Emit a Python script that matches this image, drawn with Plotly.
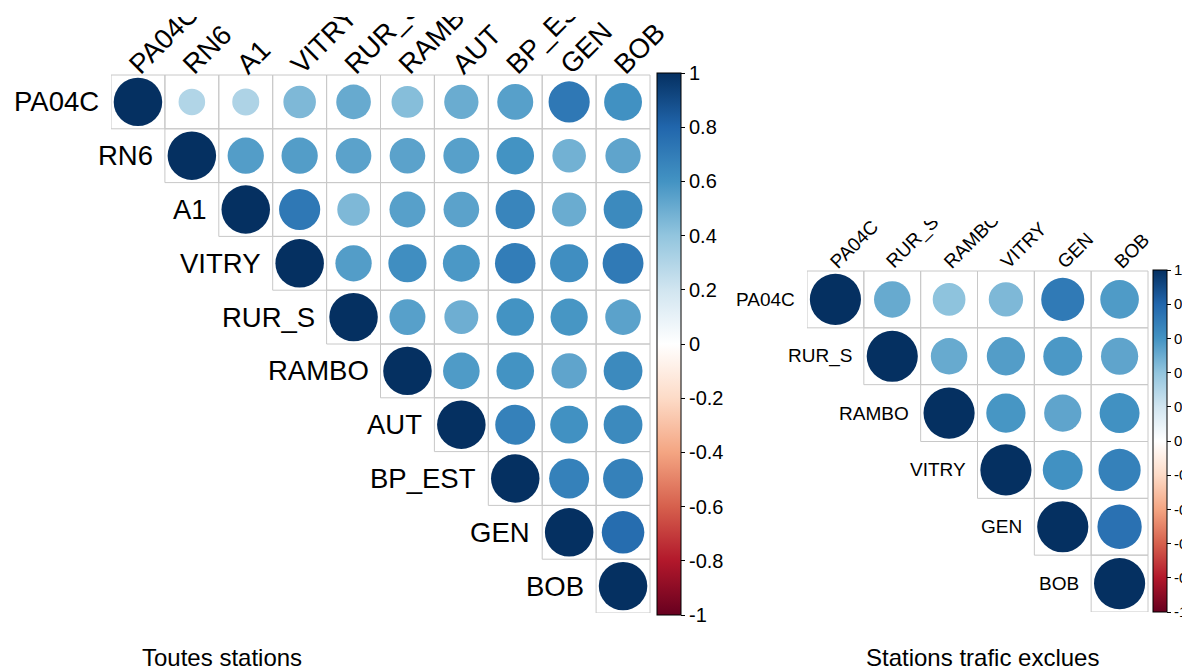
import plotly.graph_objects as go
from plotly.colors import sample_colorscale

# Station names for each panel
stations_all = ["PA04C", "RN6", "A1", "VITRY", "RUR_S", "RAMBO", "AUT", "BP_EST", "GEN", "BOB"]
stations_bg = ["PA04C", "RUR_S", "RAMBO", "VITRY", "GEN", "BOB"]

# Upper-triangle correlations, row by row (starting at the diagonal)
corr_all = [
    [1, 0.30, 0.31, 0.45, 0.51, 0.43, 0.50, 0.55, 0.72, 0.61],
    [1, 0.56, 0.56, 0.54, 0.54, 0.55, 0.60, 0.48, 0.53],
    [1, 0.72, 0.45, 0.55, 0.54, 0.66, 0.50, 0.64],
    [1, 0.56, 0.62, 0.58, 0.70, 0.62, 0.71],
    [1, 0.55, 0.49, 0.60, 0.59, 0.54],
    [1, 0.57, 0.60, 0.53, 0.64],
    [1, 0.68, 0.61, 0.64],
    [1, 0.68, 0.68],
    [1, 0.77],
    [1],
]
corr_bg = [
    [1, 0.51, 0.41, 0.45, 0.71, 0.57],
    [1, 0.51, 0.56, 0.58, 0.53],
    [1, 0.59, 0.53, 0.61],
    [1, 0.61, 0.68],
    [1, 0.75],
    [1],
]

panel_titles = ["Toutes stations", "Stations trafic exclues"]
cbar_ticks = [1, 0.8, 0.6, 0.4, 0.2, 0, -0.2, -0.4, -0.6, -0.8, -1]

# RdBu diverging palette, -1 (red) to 1 (blue)
rdbu = ["#67001F", "#B2182B", "#D6604D", "#F4A582", "#FDDBC7", "#FFFFFF",
        "#D1E5F0", "#92C5DE", "#4393C3", "#2166AC", "#053061"]
colorscale = [[k / 10, c] for k, c in enumerate(rdbu)]

W, H = 1182, 669
FONT = "Liberation Sans, Arial, sans-serif"
GRID = "#C8C8C8"

fig = go.Figure()


def add_panel(names, corr, xa, ya, cax, label_size, cell_px, lab_dx, lab_dy):
    n = len(names)
    xs, ys, vals = [], [], []
    for i in range(n):
        for k, r in enumerate(corr[i]):
            j = i + k
            xs.append(j + 1)
            ys.append(i + 1)
            vals.append(r)
    colors = sample_colorscale(colorscale, [(v + 1) / 2 for v in vals])
    # grid cells
    for x, y in zip(xs, ys):
        fig.add_shape(type="rect", xref=xa, yref=ya, x0=x - 0.5, x1=x + 0.5,
                      y0=y - 0.5, y1=y + 0.5, line=dict(color=GRID, width=1),
                      fillcolor="rgba(0,0,0,0)", layer="above")
    # circles: area proportional to |r|
    for x, y, v, c in zip(xs, ys, vals, colors):
        rad = 0.45 * abs(v) ** 0.5
        fig.add_shape(type="circle", xref=xa, yref=ya, x0=x - rad, x1=x + rad,
                      y0=y - rad, y1=y + rad, line=dict(width=0), fillcolor=c,
                      layer="above")
    # invisible markers carrying the colour scale
    fig.add_trace(go.Scatter(
        x=xs, y=ys, mode="markers", xaxis=xa, yaxis=ya, hoverinfo="skip",
        marker=dict(color=vals, coloraxis=cax, opacity=0, size=1),
        showlegend=False))
    # row labels
    for i, name in enumerate(names):
        fig.add_annotation(x=i + 0.5, y=i + 1, xref=xa, yref=ya, text=name,
                           showarrow=False, xanchor="right", yanchor="middle",
                           xshift=-10, font=dict(family=FONT, size=label_size, color="black"))
    # column labels, rotated 45 degrees about their start point
    # (clipped by the plot region like the rest of the panel)
    dx = lab_dx / cell_px
    dy = lab_dy / cell_px
    for j, name in enumerate(names):
        fig.add_shape(type="line", xref=xa, yref=ya,
                      x0=j + 1 + dx, x1=j + 1.001 + dx, y0=0.5 + dy, y1=0.5 + dy,
                      line=dict(width=0, color="rgba(0,0,0,0)"), layer="above",
                      label=dict(text=name, textangle=-45, textposition="start",
                                 xanchor="left", yanchor="bottom", padding=0,
                                 font=dict(family=FONT, size=label_size, color="black")))


add_panel(stations_all, corr_all, "x", "y", "coloraxis", 27.5, 53.9, 5, 3)
add_panel(stations_bg, corr_bg, "x2", "y2", "coloraxis2", 19, 56.8, 4, 0)


def axes_for(n, grid_left, grid_right, grid_top, grid_bottom, area_right, area_top):
    """Plot region in pixels; the grid keeps square cells inside it."""
    cw = (grid_right - grid_left) / n
    ch = (grid_bottom - grid_top) / n
    xd = [grid_left / W, area_right / W]
    xr = [0.5, 0.5 + (area_right - grid_left) / cw]
    yd = [1 - grid_bottom / H, 1 - area_top / H]
    yr = [n + 0.5, 0.5 - (grid_top - area_top) / ch]
    return xd, xr, yd, yr


xd1, xr1, yd1, yr1 = axes_for(10, 111, 650, 75, 613, 730, 17)
xd2, xr2, yd2, yr2 = axes_for(6, 807, 1148, 271, 612, 1182, 221)


def cbar(x_left, top, bottom, thick, fsize):
    return dict(
        x=x_left / W, xanchor="left", xpad=0, ypad=0,
        y=1 - (top + bottom) / 2 / H, yanchor="middle",
        lenmode="pixels", len=bottom - top, thickness=thick,
        outlinewidth=1, outlinecolor="black",
        ticks="outside", ticklen=4, tickcolor="black",
        tickvals=cbar_ticks, ticktext=[str(t) for t in cbar_ticks],
        tickfont=dict(family=FONT, size=fsize, color="black"),
    )


axis_off = dict(visible=False, showgrid=False, zeroline=False)
fig.update_layout(
    width=W, height=H,
    margin=dict(l=0, r=0, t=0, b=0, autoexpand=False),
    paper_bgcolor="white", plot_bgcolor="white",
    xaxis=dict(axis_off, domain=xd1, range=xr1),
    yaxis=dict(axis_off, domain=yd1, range=yr1),
    xaxis2=dict(axis_off, domain=xd2, range=xr2),
    yaxis2=dict(axis_off, domain=yd2, range=yr2),
    coloraxis=dict(colorscale=colorscale, cmin=-1, cmax=1,
                   colorbar=cbar(657, 73, 615, 24, 20)),
    coloraxis2=dict(colorscale=colorscale, cmin=-1, cmax=1,
                    colorbar=cbar(1153, 270, 612, 14, 15)),
)

fig.add_annotation(x=222 / W, y=1 - 657 / H, xref="paper", yref="paper",
                   text=panel_titles[0], showarrow=False, xanchor="center",
                   yanchor="middle", font=dict(family=FONT, size=24, color="black"))
fig.add_annotation(x=982 / W, y=1 - 657 / H, xref="paper", yref="paper",
                   text=panel_titles[1], showarrow=False, xanchor="center",
                   yanchor="middle", font=dict(family=FONT, size=24, color="black"))

fig.write_html("out.html")
